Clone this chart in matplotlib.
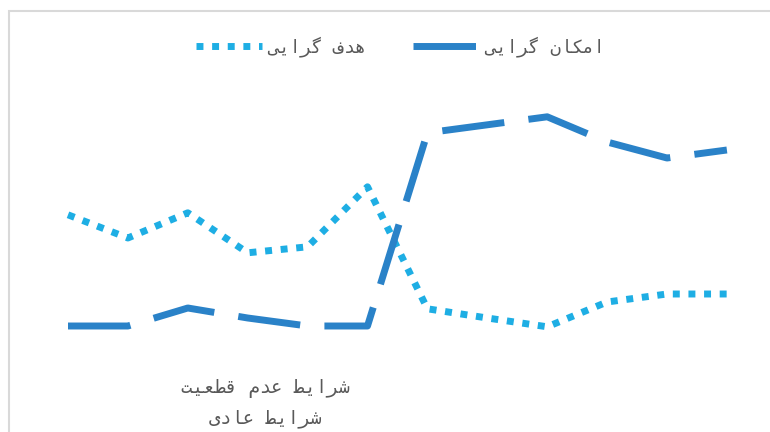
import matplotlib
matplotlib.use("Agg")
import matplotlib.pyplot as plt
from matplotlib.patches import Rectangle

# data (arbitrary units)
points = list(range(12))
goal_oriented = [3.53, 2.95, 3.58, 2.58, 2.73, 4.23, 1.18, 0.95, 0.73, 1.35, 1.55, 1.55]
possibility_oriented = [0.75, 0.75, 1.20, 0.95, 0.75, 0.75, 5.58, 5.78, 5.98, 5.35, 4.95, 5.15]

goal_label = "هدف گرایی"
possibility_label = "امکان گرایی"
category_labels = ["شرایط عدم قطعیت", "شرایط عادی"]

# matplotlib has no arabic shaping, so pick the joined forms by hand
FORMS = {
    "ا": ("\uFE8D", "\uFE8E", None, None),
    "د": ("\uFEA9", "\uFEAA", None, None),
    "ر": ("\uFEAD", "\uFEAE", None, None),
    "م": ("\uFEE1", "\uFEE2", "\uFEE3", "\uFEE4"),
    "ک": ("\uFB8E", "\uFB8F", "\uFB90", "\uFB91"),
    "ن": ("\uFEE5", "\uFEE6", "\uFEE7", "\uFEE8"),
    "گ": ("\uFB92", "\uFB93", "\uFB94", "\uFB95"),
    "ی": ("\uFBFC", "\uFBFD", "\uFBFE", "\uFBFF"),
    "ه": ("\uFEE9", "\uFEEA", "\uFEEB", "\uFEEC"),
    "ف": ("\uFED1", "\uFED2", "\uFED3", "\uFED4"),
    "ش": ("\uFEB5", "\uFEB6", "\uFEB7", "\uFEB8"),
    "ط": ("\uFEC1", "\uFEC2", "\uFEC3", "\uFEC4"),
    "ع": ("\uFEC9", "\uFECA", "\uFECB", "\uFECC"),
    "ق": ("\uFED5", "\uFED6", "\uFED7", "\uFED8"),
    "ت": ("\uFE95", "\uFE96", "\uFE97", "\uFE98"),
}


def shape(s):
    out = []
    for i, c in enumerate(s):
        if c not in FORMS:
            out.append(c)
            continue
        prev = s[i - 1] if i > 0 else ""
        nxt = s[i + 1] if i + 1 < len(s) else ""
        jp = prev in FORMS and FORMS[prev][2] is not None
        jn = nxt in FORMS and FORMS[c][2] is not None
        iso, fin, ini, med = FORMS[c]
        if jp and jn:
            out.append(med)
        elif jp:
            out.append(fin)
        elif jn:
            out.append(ini)
        else:
            out.append(iso)
    return "".join(reversed(out))


plt.rcParams["font.family"] = ["DejaVu Sans Mono", "DejaVu Sans"]

W, H = 770, 432
fig = plt.figure(figsize=(W / 100, H / 100), dpi=100)
ax = fig.add_axes([0, 0, 1, 1])

step = 59.9
ax.set_xlim(-68 / step, (W - 68) / step)
ax.set_ylim(-1.9, 8.9)
ax.axis("off")

ax.plot(points, goal_oriented, color="#1eaee4", lw=5, dashes=(1, 1.25),
        dash_capstyle="butt", solid_joinstyle="miter", label=shape(goal_label))
ax.plot(points, possibility_oriented, color="#2a82c8", lw=5, dashes=(9, 3.5),
        dash_capstyle="butt", label=shape(possibility_label))

ax.legend(loc="center", bbox_to_anchor=(400 / W, 1 - 47 / H), ncol=2,
          frameon=False, fontsize=13, labelcolor="#595959",
          handlelength=3.7, handletextpad=0.3, columnspacing=2.6)

ax.text(265 / W, 1 - 389 / H, shape(category_labels[0]), transform=ax.transAxes,
        ha="center", va="center", fontsize=13.5, color="#595959")
ax.text(265 / W, 1 - 418 / H, shape(category_labels[1]), transform=ax.transAxes,
        ha="center", va="center", fontsize=13.5, color="#595959")

# chart frame (cropped at right and bottom)
fig.patches.append(Rectangle((8.5 / W, -0.5), 2, (1 - 11 / H) + 0.5,
                             transform=fig.transFigure, fill=False,
                             edgecolor="#d9d9d9", lw=1.5))

fig.savefig("out.png", dpi=100)
